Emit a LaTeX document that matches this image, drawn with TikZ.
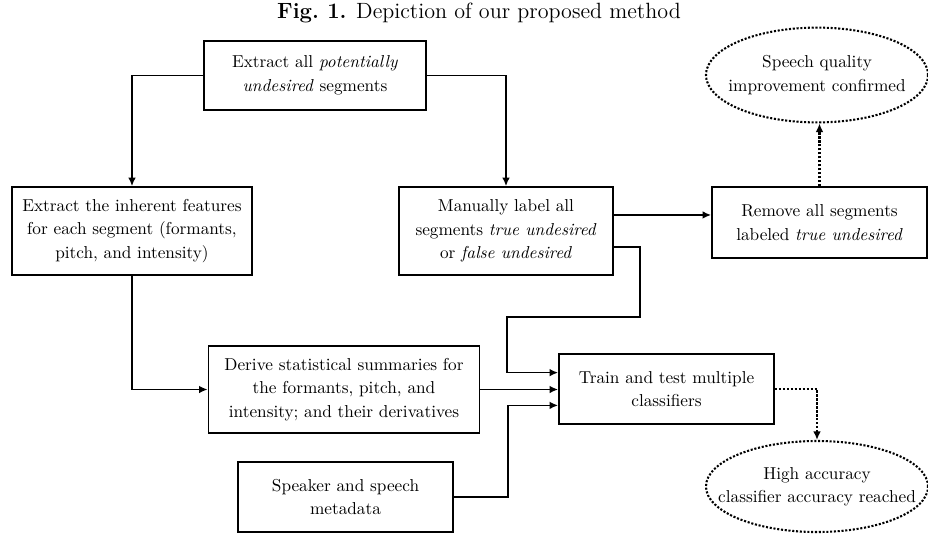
\documentclass[tikz,border=0pt]{standalone}
\usepackage{amsmath}
\usepackage{tikz}
\usetikzlibrary{shapes.geometric,arrows.meta}

\begin{document}
\begin{tikzpicture}
  [x=0.58pt,y=-0.58pt,
   every node/.style={align=center,font=\fontsize{10}{13.6}\selectfont},
   stepbox/.style={rectangle,draw=black,line width=1pt,inner sep=2pt},
   goal/.style={ellipse,draw=black,line width=1.2pt,densely dotted,inner xsep=-20pt,inner ysep=0pt,minimum width=128.8pt},
   arr/.style={line width=1pt,-{Latex[length=5pt,width=4.5pt]}},
   dotarr/.style={line width=1.3pt,densely dotted,-{Latex[length=5pt,width=4.5pt]}}]
  \useasboundingbox (0,0) rectangle (928,533);

  \node[font=\fontsize{12.8}{15}\selectfont] (title) at (479,13) {\textbf{Fig.~1.} Depiction of our proposed method};

  \node[stepbox,minimum width=128.8pt,minimum height=40pt] (extract) at (315,75.5) {Extract all \textit{potentially}\\\textit{undesired} segments};
  \node[stepbox,minimum width=139.2pt,minimum height=51pt] (features) at (132,231) {Extract the inherent features\\for each segment (formants,\\pitch, and intensity)};
  \node[stepbox,minimum width=124.1pt,minimum height=51pt] (manual) at (506,231) {Manually label all\\segments \textit{true undesired}\\or \textit{false undesired}};
  \node[stepbox,minimum width=124.7pt,minimum height=41.2pt] (remove) at (819.5,222.5) {Remove all segments\\labeled \textit{true undesired}};
  \node[goal,minimum height=55pt] (confirmed) at (817,75) {Speech quality\\improvement confirmed};
  \node[stepbox,minimum width=157.2pt,minimum height=50.5pt] (derive) at (344,389.5) {Derive statistical summaries for\\the formants, pitch, and\\intensity; and their derivatives};
  \node[stepbox,minimum width=124.7pt,minimum height=40.6pt] (train) at (666.5,389) {Train and test multiple\\classifiers};
  \node[stepbox,minimum width=124.7pt,minimum height=40.6pt] (meta) at (345.5,497) {Speaker and speech\\metadata};
  \node[goal,minimum height=52.8pt] (reached) at (817,486.5) {High accuracy\\classifier accuracy reached};

  \coordinate (m1) at ([yshift=9.3pt]manual.east);
  \coordinate (m2) at ([yshift=-9.3pt]manual.east);
  \coordinate (t1) at ([yshift=9.5pt]train.west);
  \coordinate (t3) at ([yshift=-9.5pt]train.west);

  \foreach \from/\to in {extract.west/features.north,extract.east/manual.north}
    \draw[arr] (\from) -| (\to);
  \draw[arr] (features.south) |- (derive.west);
  \draw[arr] (m1) -- (m1 -| remove.west);
  \draw[arr] (m2) -- ++(26,0) |- (507,317) |- (t1);
  \draw[arr] (derive.east) -- (derive.east -| train.west);
  \draw[arr] (meta.east) -- ++(54,0) |- (t3);
  \draw[dotarr] (train.east) -| (reached.north);
  \draw[dotarr] (remove.north) -- (remove.north |- confirmed.south);
\end{tikzpicture}
\end{document}
